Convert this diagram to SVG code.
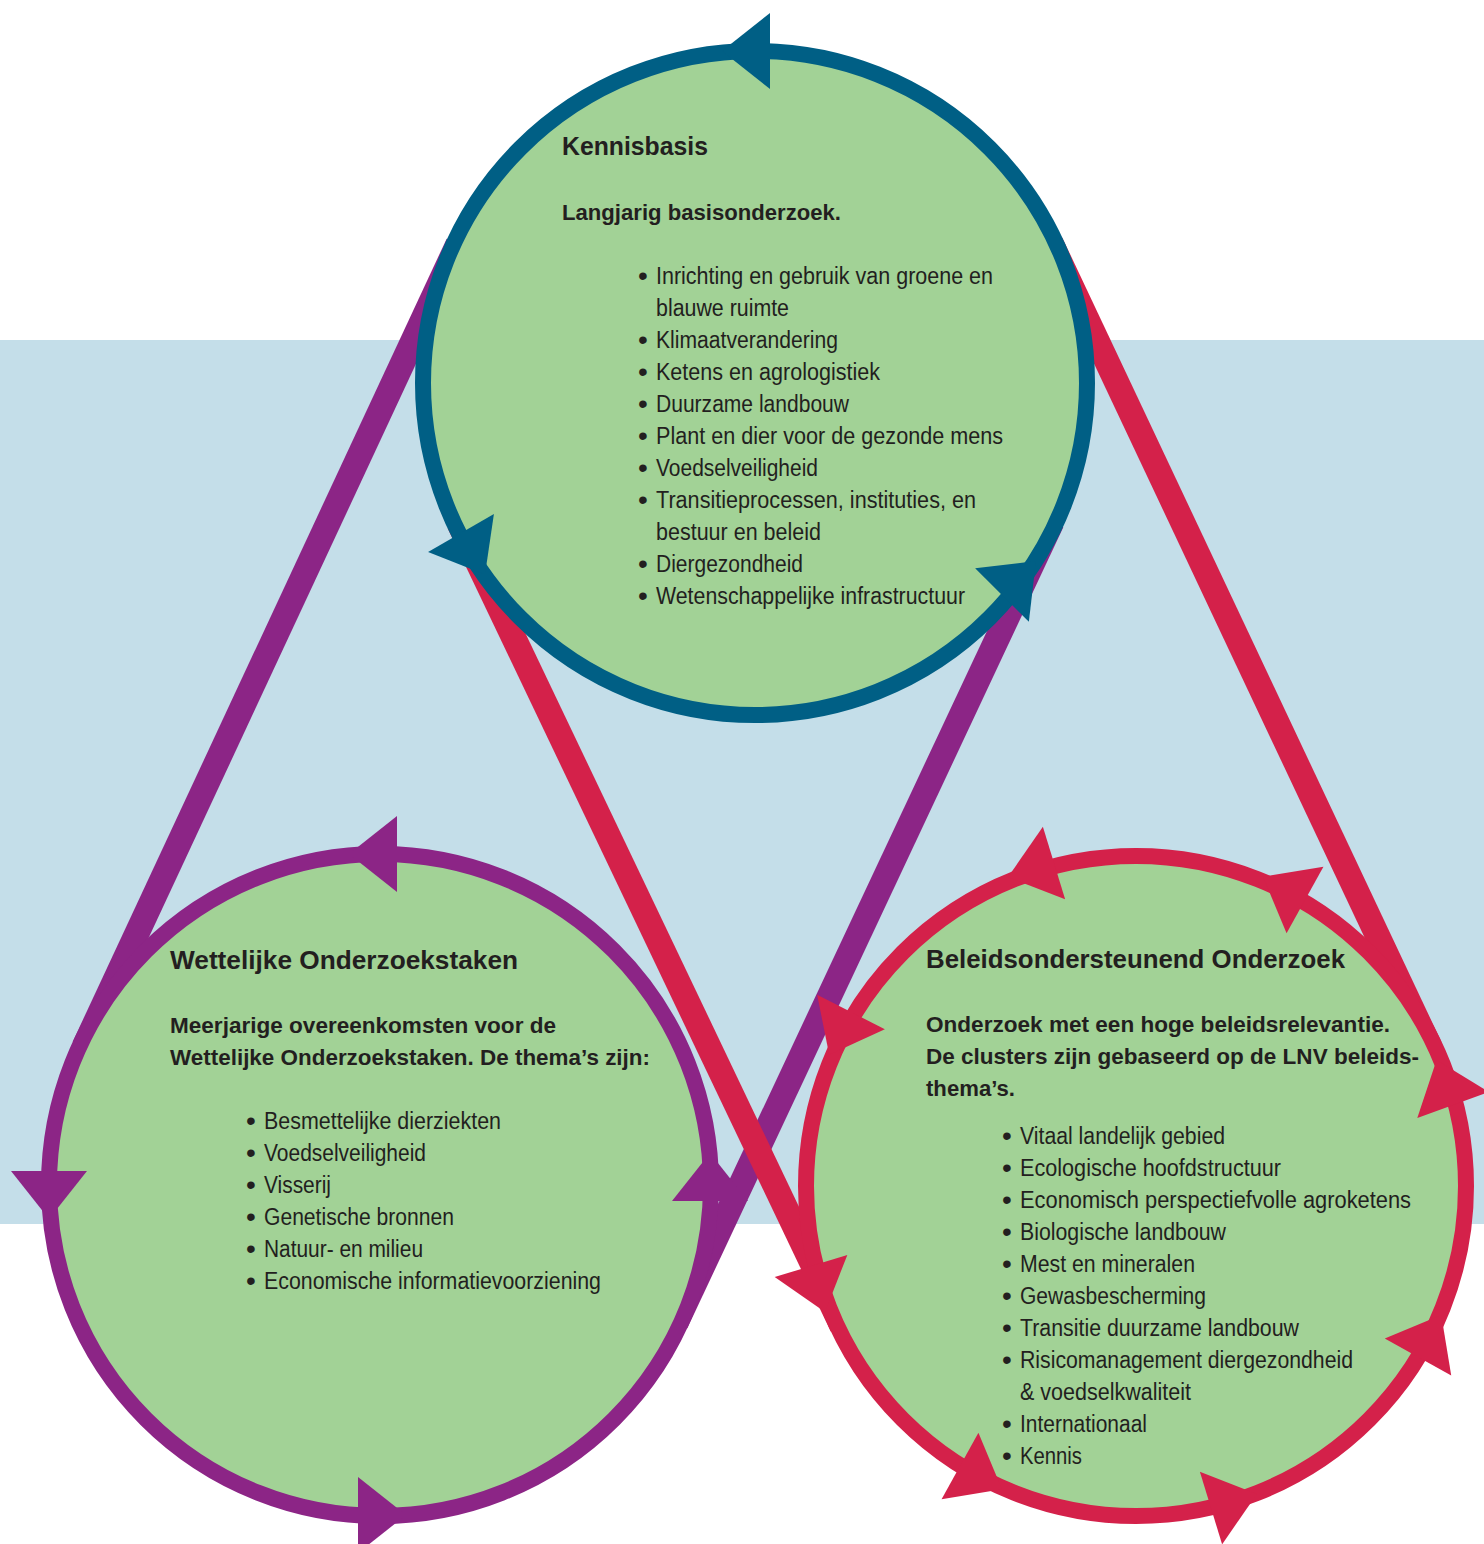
<svg xmlns="http://www.w3.org/2000/svg" xmlns:xlink="http://www.w3.org/1999/xlink" width="1484" height="1544" viewBox="0 0 1484 1544">
<style>
.bg{fill:#c4dee9}
.circ{fill:#a2d296;stroke-width:16}
.sb{stroke:#005f85}.fb{fill:#005f85}
.sp{stroke:#8c2586}.fp{fill:#8c2586}
.sr{stroke:#d4214a}.fr{fill:#d4214a}
.belt{fill:none;stroke-width:25}
text{font-family:"Liberation Sans",Arial,sans-serif;fill:#231f20}
.h{font-weight:bold;font-size:25px}
.s{font-weight:bold;font-size:21.5px}
.b{font-size:23px}
.d{font-size:28px}
</style>
<defs>
<polygon id="ah" points="0,-38 48,0 0,38"/>
</defs>
<rect x="0" y="0" width="1484" height="1544" fill="#ffffff"/>
<rect class="bg" x="0" y="340" width="1484" height="884"/>
<g id="connectors">
<line class="belt sp" x1="458" y1="244" x2="84" y2="1047"/>
<line class="belt sp" x1="1052" y1="522" x2="676" y2="1323"/>
<line class="belt sr" x1="1051" y1="243" x2="1430" y2="1047"/>
<line class="belt sr" x1="459" y1="523" x2="842" y2="1326"/>
</g>
<g id="kennisbasis">
<circle class="circ sb" cx="755" cy="383" r="332"/>
<use xlink:href="#ah" class="fb" transform="translate(770,51) rotate(180)"/>
<use xlink:href="#ah" class="fb" transform="translate(461,533) rotate(60)"/>
<use xlink:href="#ah" class="fb" transform="translate(1002,595) rotate(-45)"/>
<text class="h" x="562" y="155" textLength="146" lengthAdjust="spacingAndGlyphs">Kennisbasis</text>
<text class="s" x="562" y="220" textLength="279" lengthAdjust="spacingAndGlyphs">Langjarig basisonderzoek.</text>
<text class="d" x="638" y="285">•</text>
<text class="b" x="656" y="284" textLength="337" lengthAdjust="spacingAndGlyphs">Inrichting en gebruik van groene en</text>
<text class="b" x="656" y="316" textLength="133" lengthAdjust="spacingAndGlyphs">blauwe ruimte</text>
<text class="d" x="638" y="349">•</text>
<text class="b" x="656" y="348" textLength="182" lengthAdjust="spacingAndGlyphs">Klimaatverandering</text>
<text class="d" x="638" y="381">•</text>
<text class="b" x="656" y="380" textLength="224" lengthAdjust="spacingAndGlyphs">Ketens en agrologistiek</text>
<text class="d" x="638" y="413">•</text>
<text class="b" x="656" y="412" textLength="193" lengthAdjust="spacingAndGlyphs">Duurzame landbouw</text>
<text class="d" x="638" y="445">•</text>
<text class="b" x="656" y="444" textLength="347" lengthAdjust="spacingAndGlyphs">Plant en dier voor de gezonde mens</text>
<text class="d" x="638" y="477">•</text>
<text class="b" x="656" y="476" textLength="162" lengthAdjust="spacingAndGlyphs">Voedselveiligheid</text>
<text class="d" x="638" y="509">•</text>
<text class="b" x="656" y="508" textLength="320" lengthAdjust="spacingAndGlyphs">Transitieprocessen, instituties, en</text>
<text class="b" x="656" y="540" textLength="165" lengthAdjust="spacingAndGlyphs">bestuur en beleid</text>
<text class="d" x="638" y="573">•</text>
<text class="b" x="656" y="572" textLength="147" lengthAdjust="spacingAndGlyphs">Diergezondheid</text>
<text class="d" x="638" y="605">•</text>
<text class="b" x="656" y="604" textLength="309" lengthAdjust="spacingAndGlyphs">Wetenschappelijke infrastructuur</text>
</g>
<g id="wettelijke-onderzoekstaken">
<circle class="circ sp" cx="380" cy="1185" r="331"/>
<use xlink:href="#ah" class="fp" transform="translate(397,854) rotate(180)"/>
<use xlink:href="#ah" class="fp" transform="translate(49,1171) rotate(90)"/>
<use xlink:href="#ah" class="fp" transform="translate(358,1515) rotate(0)"/>
<use xlink:href="#ah" class="fp" transform="translate(710,1201) rotate(-90)"/>
<text class="h" x="170" y="969" textLength="348" lengthAdjust="spacingAndGlyphs">Wettelijke Onderzoekstaken</text>
<text class="s" x="170" y="1033" textLength="386" lengthAdjust="spacingAndGlyphs">Meerjarige overeenkomsten voor de</text>
<text class="s" x="170" y="1065" textLength="480" lengthAdjust="spacingAndGlyphs">Wettelijke Onderzoekstaken. De thema’s zijn:</text>
<text class="d" x="246" y="1130">•</text>
<text class="b" x="264" y="1129" textLength="237" lengthAdjust="spacingAndGlyphs">Besmettelijke dierziekten</text>
<text class="d" x="246" y="1162">•</text>
<text class="b" x="264" y="1161" textLength="162" lengthAdjust="spacingAndGlyphs">Voedselveiligheid</text>
<text class="d" x="246" y="1194">•</text>
<text class="b" x="264" y="1193" textLength="67" lengthAdjust="spacingAndGlyphs">Visserij</text>
<text class="d" x="246" y="1226">•</text>
<text class="b" x="264" y="1225" textLength="190" lengthAdjust="spacingAndGlyphs">Genetische bronnen</text>
<text class="d" x="246" y="1258">•</text>
<text class="b" x="264" y="1257" textLength="159" lengthAdjust="spacingAndGlyphs">Natuur- en milieu</text>
<text class="d" x="246" y="1290">•</text>
<text class="b" x="264" y="1289" textLength="337" lengthAdjust="spacingAndGlyphs">Economische informatievoorziening</text>
</g>
<g id="beleidsondersteunend-onderzoek">
<circle class="circ sr" cx="1136" cy="1186" r="330"/>
<use xlink:href="#ah" class="fr" transform="translate(1054,863) rotate(163)"/>
<use xlink:href="#ah" class="fr" transform="translate(1305,900) rotate(-151)"/>
<use xlink:href="#ah" class="fr" transform="translate(1453,1105) rotate(-110)"/>
<use xlink:href="#ah" class="fr" transform="translate(1418,1357) rotate(-61)"/>
<use xlink:href="#ah" class="fr" transform="translate(1211,1508) rotate(-17)"/>
<use xlink:href="#ah" class="fr" transform="translate(960,1466) rotate(29)"/>
<use xlink:href="#ah" class="fr" transform="translate(811,1266) rotate(73)"/>
<use xlink:href="#ah" class="fr" transform="translate(851,1012) rotate(117)"/>
<text class="h" x="926" y="968" textLength="419" lengthAdjust="spacingAndGlyphs">Beleidsondersteunend Onderzoek</text>
<text class="s" x="926" y="1032" textLength="464" lengthAdjust="spacingAndGlyphs">Onderzoek met een hoge beleidsrelevantie.</text>
<text class="s" x="926" y="1064" textLength="493" lengthAdjust="spacingAndGlyphs">De clusters zijn gebaseerd op de LNV beleids-</text>
<text class="s" x="926" y="1096" textLength="89" lengthAdjust="spacingAndGlyphs">thema’s.</text>
<text class="d" x="1002" y="1145">•</text>
<text class="b" x="1020" y="1144" textLength="205" lengthAdjust="spacingAndGlyphs">Vitaal landelijk gebied</text>
<text class="d" x="1002" y="1177">•</text>
<text class="b" x="1020" y="1176" textLength="261" lengthAdjust="spacingAndGlyphs">Ecologische hoofdstructuur</text>
<text class="d" x="1002" y="1209">•</text>
<text class="b" x="1020" y="1208" textLength="391" lengthAdjust="spacingAndGlyphs">Economisch perspectiefvolle agroketens</text>
<text class="d" x="1002" y="1241">•</text>
<text class="b" x="1020" y="1240" textLength="206" lengthAdjust="spacingAndGlyphs">Biologische landbouw</text>
<text class="d" x="1002" y="1273">•</text>
<text class="b" x="1020" y="1272" textLength="175" lengthAdjust="spacingAndGlyphs">Mest en mineralen</text>
<text class="d" x="1002" y="1305">•</text>
<text class="b" x="1020" y="1304" textLength="186" lengthAdjust="spacingAndGlyphs">Gewasbescherming</text>
<text class="d" x="1002" y="1337">•</text>
<text class="b" x="1020" y="1336" textLength="279" lengthAdjust="spacingAndGlyphs">Transitie duurzame landbouw</text>
<text class="d" x="1002" y="1369">•</text>
<text class="b" x="1020" y="1368" textLength="333" lengthAdjust="spacingAndGlyphs">Risicomanagement diergezondheid</text>
<text class="b" x="1020" y="1400" textLength="171" lengthAdjust="spacingAndGlyphs">&amp; voedselkwaliteit</text>
<text class="d" x="1002" y="1433">•</text>
<text class="b" x="1020" y="1432" textLength="127" lengthAdjust="spacingAndGlyphs">Internationaal</text>
<text class="d" x="1002" y="1465">•</text>
<text class="b" x="1020" y="1464" textLength="62" lengthAdjust="spacingAndGlyphs">Kennis</text>
</g>
</svg>
